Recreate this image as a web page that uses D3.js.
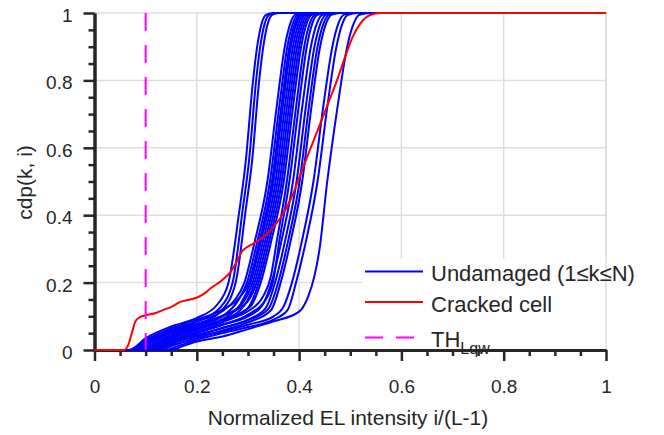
<!DOCTYPE html>
<html>
<head>
<meta charset="utf-8">
<style>
  body {
    margin: 0;
    background: #fff;
  }
  text {
    font-family: "Liberation Sans", Arial, sans-serif;
    fill: #262626;
  }
</style>
<script type="text/javascript" src="https://d3js.org/d3.v7.min.js"></script>
</head>
<body>
<svg id="chart"></svg>
<script type="text/javascript">
let width = 664,
    height = 435

// tick values
let majorTicks = [0, 0.2, 0.4, 0.6, 0.8, 1]
let minorTicks = [0.05, 0.1, 0.15, 0.25, 0.3, 0.35, 0.45, 0.5, 0.55, 0.65, 0.7, 0.75, 0.85, 0.9, 0.95]

// threshold TH_Lqw
let threshold = 0.1

// cracked cell cdp, [i/(L-1), cdp]
let cracked = [[0,0],[0.058,0],[0.066,0.015],[0.073,0.05],[0.08,0.085],[0.088,0.097],[0.1,0.103],
  [0.12,0.11],[0.135,0.119],[0.15,0.128],[0.168,0.143],[0.185,0.149],[0.204,0.158],[0.215,0.168],
  [0.227,0.183],[0.25,0.208],[0.266,0.232],[0.278,0.262],[0.288,0.292],[0.298,0.305],[0.311,0.316],
  [0.328,0.333],[0.344,0.355],[0.363,0.391],[0.383,0.445],[0.4,0.51],[0.415,0.57],[0.428,0.62],
  [0.441,0.67],[0.455,0.725],[0.474,0.8],[0.49,0.87],[0.505,0.93],[0.52,0.969],[0.539,0.994],
  [0.56,1],[1,1]]

// undamaged cells cdp, one list per cell
let undamaged = [
  [[0,0],[0.068,0],[0.1,0.035],[0.15,0.07],[0.2,0.095],[0.24,0.135],[0.262,0.2],[0.282,0.4],[0.295,0.55],[0.31,0.8],[0.318,0.9],[0.327,0.97],[0.336,0.995],[0.35,1],[1,1]],
  [[0,0],[0.075,0],[0.1,0.025],[0.15,0.055],[0.2,0.085],[0.245,0.125],[0.27,0.2],[0.29,0.42],[0.302,0.56],[0.316,0.8],[0.324,0.9],[0.333,0.97],[0.342,0.995],[0.355,1],[1,1]],
  [[0,0],[0.08,0],[0.1,0.015],[0.15,0.045],[0.2,0.075],[0.25,0.12],[0.276,0.2],[0.296,0.42],[0.308,0.56],[0.322,0.8],[0.33,0.9],[0.339,0.97],[0.348,0.995],[0.36,1],[1,1]],
  [[0,0],[0.07,0],[0.1,0.028],[0.15,0.06],[0.2,0.085],[0.25,0.115],[0.275,0.15],[0.293,0.2],[0.313,0.32],[0.338,0.5],[0.356,0.72],[0.372,0.9],[0.383,0.97],[0.393,0.995],[0.41,1],[1,1]],
  [[0,0],[0.085,0],[0.1,0.01],[0.15,0.04],[0.2,0.07],[0.25,0.1],[0.28,0.145],[0.298,0.2],[0.318,0.32],[0.343,0.5],[0.361,0.72],[0.377,0.9],[0.388,0.97],[0.398,0.995],[0.415,1],[1,1]],
  [[0,0],[0.066,0],[0.1,0.03],[0.15,0.065],[0.2,0.09],[0.25,0.12],[0.283,0.155],[0.302,0.2],[0.322,0.32],[0.347,0.5],[0.365,0.72],[0.381,0.9],[0.392,0.97],[0.402,0.995],[0.42,1],[1,1]],
  [[0,0],[0.09,0],[0.1,0.006],[0.15,0.035],[0.2,0.063],[0.25,0.092],[0.285,0.135],[0.305,0.2],[0.325,0.32],[0.35,0.5],[0.368,0.72],[0.384,0.9],[0.395,0.97],[0.405,0.995],[0.42,1],[1,1]],
  [[0,0],[0.078,0],[0.1,0.018],[0.15,0.05],[0.2,0.075],[0.25,0.1],[0.29,0.14],[0.309,0.2],[0.329,0.32],[0.354,0.5],[0.372,0.72],[0.388,0.9],[0.399,0.97],[0.409,0.995],[0.425,1],[1,1]],
  [[0,0],[0.1,0],[0.12,0.01],[0.15,0.028],[0.2,0.058],[0.25,0.088],[0.293,0.132],[0.313,0.2],[0.333,0.32],[0.358,0.5],[0.376,0.72],[0.392,0.9],[0.403,0.97],[0.413,0.995],[0.43,1],[1,1]],
  [[0,0],[0.072,0],[0.1,0.022],[0.15,0.052],[0.2,0.078],[0.25,0.102],[0.297,0.14],[0.317,0.2],[0.337,0.32],[0.362,0.5],[0.38,0.72],[0.396,0.9],[0.407,0.97],[0.417,0.995],[0.435,1],[1,1]],
  [[0,0],[0.11,0],[0.13,0.01],[0.15,0.022],[0.2,0.052],[0.25,0.082],[0.3,0.125],[0.321,0.2],[0.341,0.32],[0.366,0.5],[0.384,0.72],[0.4,0.9],[0.411,0.97],[0.421,0.995],[0.44,1],[1,1]],
  [[0,0],[0.095,0],[0.12,0.015],[0.15,0.035],[0.2,0.062],[0.25,0.09],[0.305,0.13],[0.325,0.2],[0.345,0.32],[0.37,0.5],[0.388,0.72],[0.404,0.9],[0.415,0.97],[0.425,0.995],[0.44,1],[1,1]],
  [[0,0],[0.085,0],[0.1,0.008],[0.15,0.04],[0.2,0.065],[0.25,0.088],[0.3,0.115],[0.33,0.16],[0.345,0.22],[0.356,0.32],[0.376,0.5],[0.394,0.72],[0.41,0.9],[0.421,0.97],[0.431,0.995],[0.45,1],[1,1]],
  [[0,0],[0.105,0],[0.12,0.008],[0.15,0.025],[0.2,0.05],[0.25,0.075],[0.3,0.105],[0.335,0.15],[0.35,0.21],[0.361,0.32],[0.381,0.5],[0.399,0.72],[0.415,0.9],[0.426,0.97],[0.436,0.995],[0.455,1],[1,1]],
  [[0,0],[0.1,0],[0.12,0.01],[0.15,0.03],[0.2,0.05],[0.25,0.075],[0.3,0.1],[0.327,0.13],[0.346,0.2],[0.365,0.32],[0.388,0.5],[0.406,0.72],[0.423,0.9],[0.435,0.97],[0.446,0.995],[0.465,1],[1,1]],
  [[0,0],[0.12,0],[0.14,0.01],[0.17,0.028],[0.2,0.042],[0.25,0.066],[0.3,0.09],[0.335,0.125],[0.353,0.2],[0.372,0.32],[0.395,0.5],[0.413,0.72],[0.43,0.9],[0.442,0.97],[0.453,0.995],[0.47,1],[1,1]],
  [[0,0],[0.105,0],[0.13,0.01],[0.15,0.025],[0.2,0.045],[0.25,0.065],[0.3,0.088],[0.34,0.122],[0.359,0.2],[0.378,0.32],[0.401,0.5],[0.419,0.72],[0.436,0.9],[0.448,0.97],[0.459,0.995],[0.475,1],[1,1]],
  [[0,0],[0.13,0],[0.15,0.012],[0.2,0.035],[0.25,0.058],[0.3,0.082],[0.345,0.118],[0.364,0.2],[0.383,0.32],[0.406,0.5],[0.424,0.72],[0.441,0.9],[0.453,0.97],[0.464,0.995],[0.48,1],[1,1]],
  [[0,0],[0.11,0],[0.13,0.008],[0.15,0.02],[0.2,0.04],[0.25,0.055],[0.3,0.075],[0.35,0.1],[0.37,0.13],[0.386,0.2],[0.405,0.32],[0.428,0.5],[0.447,0.72],[0.465,0.9],[0.477,0.97],[0.488,0.995],[0.505,1],[1,1]],
  [[0,0],[0.14,0],[0.16,0.01],[0.2,0.03],[0.25,0.05],[0.3,0.068],[0.35,0.09],[0.378,0.12],[0.394,0.2],[0.413,0.32],[0.436,0.5],[0.455,0.72],[0.473,0.9],[0.485,0.97],[0.496,0.995],[0.515,1],[1,1]],
  [[0,0],[0.15,0],[0.17,0.01],[0.2,0.025],[0.25,0.04],[0.3,0.062],[0.35,0.085],[0.4,0.114],[0.418,0.16],[0.43,0.22],[0.44,0.3],[0.455,0.5],[0.475,0.72],[0.494,0.9],[0.507,0.97],[0.518,0.995],[0.54,1],[1,1]]
]

let legendLabels = ['Undamaged (1\u2264k\u2264N)', 'Cracked cell', 'TH']

let x = d3.scaleLinear().domain([0, 1]).range([94.5, 606])
let y = d3.scaleLinear().domain([0, 1]).range([350, 13])

let svg = d3.select('#chart')
    .attr('width', width)
    .attr('height', height)

// grid
let grid = svg.append('g')
grid.selectAll('.gx')
    .data(majorTicks.slice(1))
    .enter().append('line')
    .attr('x1', d => x(d)).attr('x2', d => x(d))
    .attr('y1', y(0)).attr('y2', y(1))
    .attr('stroke', '#dedede').attr('stroke-width', 1.5)
grid.selectAll('.gy')
    .data(majorTicks.slice(1))
    .enter().append('line')
    .attr('x1', x(0)).attr('x2', x(1))
    .attr('y1', d => y(d)).attr('y2', d => y(d))
    .attr('stroke', '#dedede').attr('stroke-width', 1.5)

// legend background hides grid under it
svg.append('rect')
    .attr('x', 362).attr('y', 259)
    .attr('width', 300).attr('height', 90)
    .attr('fill', '#fff')

svg.append('line')
    .attr('x1', x(1)).attr('x2', x(1))
    .attr('y1', y(0)).attr('y2', y(1))
    .attr('stroke', '#dedede').attr('stroke-width', 1.5)

// axes
let fmt = d3.format('~g')
let xAxis = svg.append('g')
    .attr('transform', 'translate(0,' + y(0) + ')')
    .call(d3.axisBottom(x).tickValues(majorTicks).tickSize(11).tickSizeOuter(0).tickPadding(19).tickFormat(fmt))
svg.append('g')
    .attr('transform', 'translate(0,' + y(0) + ')')
    .call(d3.axisBottom(x).tickValues(minorTicks).tickSize(6).tickSizeOuter(0).tickFormat(''))

let yAxis = svg.append('g')
    .attr('transform', 'translate(' + x(0) + ',0)')
    .call(d3.axisLeft(y).tickValues(majorTicks).tickSize(11).tickSizeOuter(0).tickPadding(11).tickFormat(fmt))
svg.append('g')
    .attr('transform', 'translate(' + x(0) + ',0)')
    .call(d3.axisLeft(y).tickValues(minorTicks).tickSize(6).tickSizeOuter(0).tickFormat(''))

svg.selectAll('.domain').attr('stroke', '#262626').attr('stroke-width', 3)
svg.selectAll('.tick line').attr('stroke', '#262626').attr('stroke-width', 2.5)
svg.selectAll('.tick text')
    .attr('font-family', '"Liberation Sans", Arial, sans-serif')
    .attr('font-size', 19)
    .attr('fill', '#262626')
yAxis.selectAll('.tick text').attr('dy', '0.45em')

// axis labels
svg.append('text')
    .attr('x', 348).attr('y', 425)
    .attr('text-anchor', 'middle')
    .attr('font-size', 21)
    .text('Normalized EL intensity i/(L-1)')

svg.append('text')
    .attr('transform', 'translate(31.5,' + (y(0.5) + 1) + ') rotate(-90)')
    .attr('text-anchor', 'middle')
    .attr('font-size', 21)
    .text('cdp(k, i)')

// curves
let line = d3.line()
    .x(d => x(d[0]))
    .y(d => y(d[1]))
    .curve(d3.curveMonotoneX)

svg.append('g').selectAll('path')
    .data(undamaged)
    .enter().append('path')
    .attr('d', line)
    .attr('fill', 'none')
    .attr('stroke', '#0000ff')
    .attr('stroke-width', 2)

svg.append('path')
    .datum(cracked)
    .attr('d', line)
    .attr('fill', 'none')
    .attr('stroke', '#ff0000')
    .attr('stroke-width', 2)

svg.append('line')
    .attr('x1', x(threshold)).attr('x2', x(threshold))
    .attr('y1', y(1)).attr('y2', y(0))
    .attr('stroke', '#ff00ff')
    .attr('stroke-width', 2)
    .attr('stroke-dasharray', '18,14')

// legend
let legendY = [271.5, 302, 337.5]
let legendColors = ['#0000ff', '#ff0000', '#ff00ff']
let legend = svg.append('g')
legendLabels.forEach(function(label, i) {
  legend.append('line')
      .attr('x1', 365).attr('x2', 423)
      .attr('y1', legendY[i]).attr('y2', legendY[i])
      .attr('stroke', legendColors[i])
      .attr('stroke-width', 2)
      .attr('stroke-dasharray', i == 2 ? '18,13' : null)
  let t = legend.append('text')
      .attr('x', 431).attr('y', legendY[i] + 9.5)
      .attr('font-size', 22)
      .text(label)
  if (i == 2) {
    t.append('tspan')
        .attr('font-size', 16)
        .attr('dy', 7)
        .text('Lqw')
  }
})
</script>
</body>
</html>
